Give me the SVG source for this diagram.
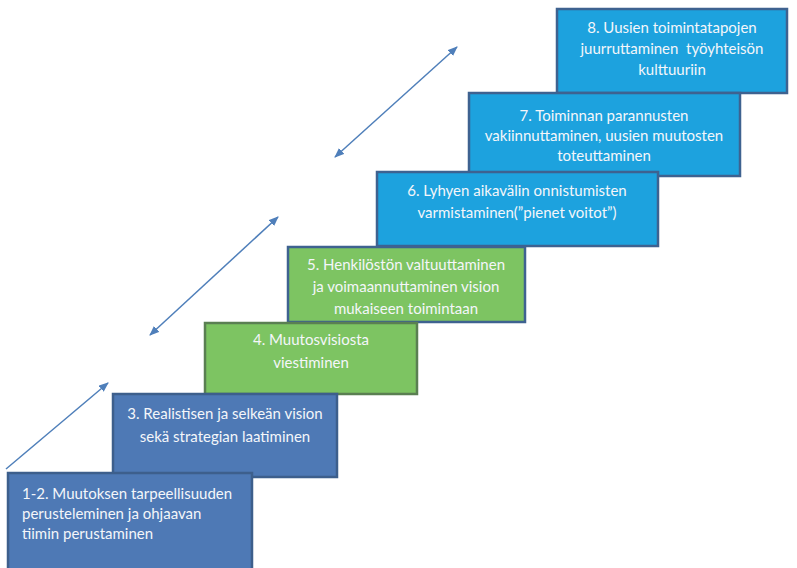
<svg xmlns="http://www.w3.org/2000/svg" width="797" height="568" viewBox="0 0 797 568">
  <defs>
    <marker id="ah" viewBox="0 0 10 8" refX="9" refY="4" markerWidth="10" markerHeight="8" markerUnits="userSpaceOnUse" orient="auto-start-reverse">
      <path d="M0,0 L10,4 L0,8 z" fill="#4F7FBA"/>
    </marker>
  </defs>
  <style>
    .t { font-family: Lato, "Liberation Sans", sans-serif; font-size: 15px; fill: #F4F6FA; }
    .c { text-anchor: middle; }
    .dark { fill: #4E79B5; stroke: #3D5F8C; stroke-width: 2.5; }
    .green { fill: #7DC462; stroke: #5A7F52; stroke-width: 2.5; }
    .green5 { fill: #7DC462; stroke: #3E6290; stroke-width: 2.5; }
    .light { fill: #1DA2DE; stroke: #3E6290; stroke-width: 2.5; }
    .arr { stroke: #4F7FBA; stroke-width: 1.5; fill: none; }
  </style>
  <rect width="797" height="568" fill="#ffffff"/>

  <g id="step8">
    <rect class="light" x="557" y="9" width="230" height="84"/>
    <text class="t c" x="672" y="33">8. Uusien toimintatapojen</text>
    <text class="t c" x="672" y="54">juurruttaminen&#160; työyhteisön</text>
    <text class="t c" x="672" y="75">kulttuuriin</text>
  </g>
  <g id="step7">
    <rect class="light" x="469" y="93" width="271" height="83"/>
    <text class="t c" x="604" y="121">7. Toiminnan parannusten</text>
    <text class="t c" x="604" y="141">vakiinnuttaminen, uusien muutosten</text>
    <text class="t c" x="604" y="161">toteuttaminen</text>
  </g>
  <g id="step6">
    <rect class="light" x="377" y="172" width="281" height="74"/>
    <text class="t c" x="517" y="196">6. Lyhyen aikavälin onnistumisten</text>
    <text class="t c" x="517" y="218">varmistaminen(”pienet voitot”)</text>
  </g>
  <g id="step5">
    <rect class="green5" x="288" y="247" width="237" height="75"/>
    <text class="t c" x="406" y="270">5. Henkilöstön valtuuttaminen</text>
    <text class="t c" x="406" y="292">ja voimaannuttaminen vision</text>
    <text class="t c" x="406" y="314">mukaiseen toimintaan</text>
  </g>
  <g id="step4">
    <rect class="green" x="205" y="323" width="212" height="71"/>
    <text class="t c" x="311" y="345">4. Muutosvisiosta</text>
    <text class="t c" x="311" y="368">viestiminen</text>
  </g>
  <g id="step3">
    <rect class="dark" x="113" y="394" width="224" height="83"/>
    <text class="t c" x="225" y="419">3. Realistisen ja selkeän vision</text>
    <text class="t c" x="225" y="442">sekä strategian laatiminen</text>
  </g>
  <g id="step1-2">
    <rect class="dark" x="8" y="473" width="244" height="100"/>
    <text class="t" x="22" y="499">1-2. Muutoksen tarpeellisuuden</text>
    <text class="t" x="22" y="519">perusteleminen ja ohjaavan</text>
    <text class="t" x="22" y="539">tiimin perustaminen</text>
  </g>

  <g id="connectors">
    <line class="arr" x1="6" y1="469" x2="108" y2="383" marker-end="url(#ah)"/>
    <line class="arr" x1="150" y1="335" x2="278" y2="217" marker-start="url(#ah)" marker-end="url(#ah)"/>
    <line class="arr" x1="335" y1="157" x2="457" y2="47" marker-start="url(#ah)" marker-end="url(#ah)"/>
  </g>
</svg>
